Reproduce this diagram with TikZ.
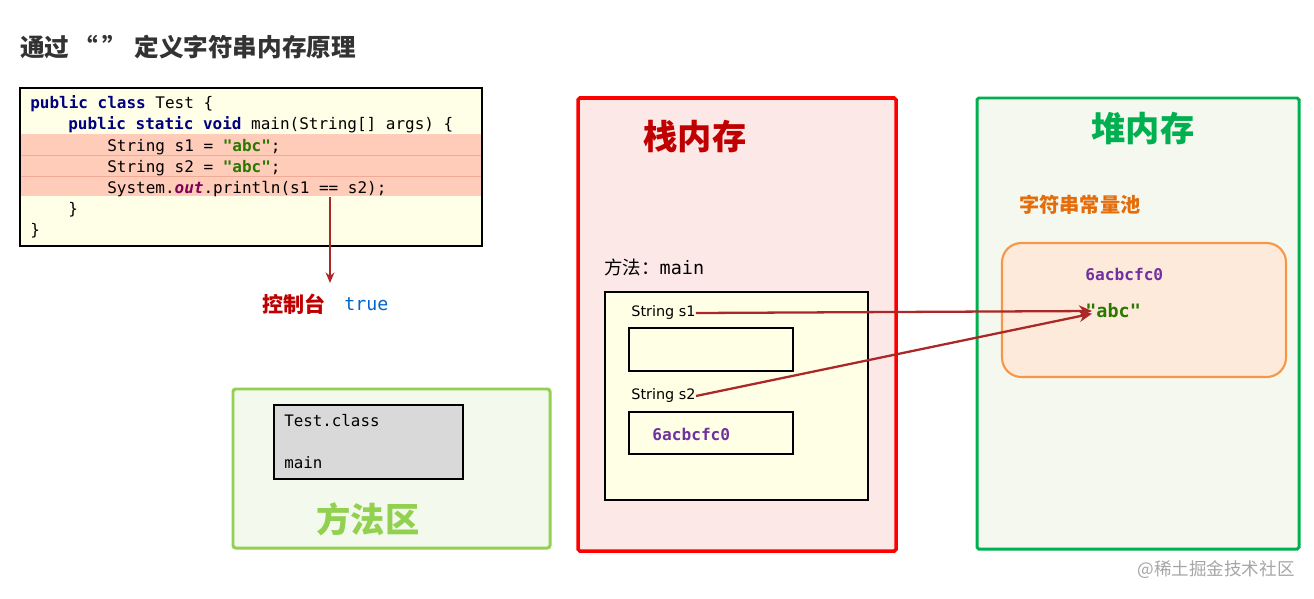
\documentclass[tikz,border=0pt]{standalone}
\usepackage{fontspec}
\usepackage{xcolor}
\setmainfont{Noto Sans CJK SC}
\setsansfont{DejaVu Sans}
\setmonofont{DejaVu Sans Mono}
\newfontfamily\cjk{Noto Sans CJK SC}
\usetikzlibrary{arrows.meta,positioning}
\definecolor{titleGray}{RGB}{51,51,51}
\definecolor{codeBg}{RGB}{255,255,232}
\definecolor{codeHl}{RGB}{255,204,186}
\definecolor{hlLine}{RGB}{240,170,150}
\definecolor{kwNavy}{RGB}{0,0,128}
\definecolor{strGreen}{RGB}{42,120,0}
\definecolor{outPurple}{RGB}{127,0,85}
\definecolor{arrRed}{RGB}{170,40,40}
\definecolor{conRed}{RGB}{192,0,0}
\definecolor{trueBlue}{RGB}{0,102,204}
\definecolor{areaGreen}{RGB}{146,208,80}
\definecolor{areaFill}{RGB}{244,249,238}
\definecolor{stackRed}{RGB}{255,0,0}
\definecolor{stackFill}{RGB}{253,232,232}
\definecolor{heapGreen}{RGB}{0,176,80}
\definecolor{heapFill}{RGB}{244,248,238}
\definecolor{poolText}{RGB}{228,108,10}
\definecolor{poolLine}{RGB}{247,150,70}
\definecolor{poolFill}{RGB}{253,234,218}
\definecolor{addrPurple}{RGB}{112,48,160}
\definecolor{frameFill}{RGB}{255,255,230}
\definecolor{classGray}{RGB}{217,217,217}
\newcommand{\kw}[1]{\textcolor{kwNavy}{\textbf{#1}}}
\newcommand{\strlit}[1]{\textcolor{strGreen}{\textbf{#1}}}
\tikzset{
  codeline/.style={anchor=base west,inner sep=0pt,font=\ttfamily\fontsize{9.1}{11}\selectfont},
  plain/.style={anchor=west,inner sep=0pt},
  bigtitle/.style={font=\cjk\bfseries\fontsize{19.5}{22}\selectfont},
  ref/.style={draw=arrRed,line width=1.3pt,-{Stealth[length=7.5pt,width=6.5pt]}},
  addr/.style={plain,text=addrPurple,font=\ttfamily\bfseries\fontsize{9.2}{11}\selectfont}
}

\begin{document}
\begin{tikzpicture}[x=0.02cm,y=-0.02cm]
  \useasboundingbox[fill=white] (0,0) rectangle (1314,598);
  % title
  \node[plain,text=titleGray,font=\cjk\bfseries\fontsize{14}{16}\selectfont] (title) at (20,47) {通过\hspace{2pt}“\hspace{3pt}”\hspace{4pt}定义字符串内存原理};

  % code
  \fill[codeBg] (20,88) rectangle (482,246);
  \fill[codeHl] (21,134) rectangle (481,196);
  \draw[hlLine,line width=0.4pt] (21,155) -- (481,155);
  \draw[hlLine,line width=0.4pt] (21,176) -- (481,176);
  \draw[black,line width=0.8pt] (20,88) rectangle (482,246);
  \node[codeline] (c1) at (30,109) {\kw{public class} Test \{};
  \node[codeline] (c2) at (68,130) {\kw{public static void} main(String[] args) \{};
  \node[codeline] (c3) at (107,151) {String s1 = \strlit{"abc"};};
  \node[codeline] (c4) at (107,172) {String s2 = \strlit{"abc"};};
  \node[codeline] (c5) at (107,193) {System.\textcolor{outPurple}{\textbf{\textit{out}}}.println(s1 == s2);};
  \node[codeline] (c6) at (68,214) {\}};
  \node[codeline] (c7) at (30,235) {\}};

  % console
  \coordinate (outpt) at (330,197);
  \coordinate (conpt) at (330,283);
  \draw[ref,line width=1pt,-{Stealth[length=6pt,width=5pt]}] (outpt) -- (conpt);
  \node[plain,text=conRed,font=\cjk\bfseries\fontsize{12}{14}\selectfont] (console) at (262,304) {控制台};
  \node[plain,text=trueBlue,font=\ttfamily\fontsize{10.4}{12}\selectfont,right=0.36cm of console] (result) {true};

  % method area
  \draw[areaGreen,fill=areaFill,line width=1.7pt,rounded corners=1.5pt] (233,389) rectangle (550,548);
  \draw[black,fill=classGray,line width=0.7pt] (274,405) rectangle (463,479);
  \node[plain,font=\ttfamily\fontsize{9}{11}\selectfont] (cls) at (284,421) {Test.class};
  \node[plain,font=\ttfamily\fontsize{9}{11}\selectfont] (mth) at (284,463) {main};
  \node[bigtitle,text=areaGreen] (areaT) at (368,519) {方法区};

  % stack
  \draw[stackRed,fill=stackFill,line width=2pt,rounded corners=1pt] (578,98) rectangle (896,551);
  \node[bigtitle,text=conRed] (stackT) at (695,136) {栈内存};
  \node[plain,font=\fontsize{10.5}{12}\selectfont] (frameT) at (604,267) {方法：\texttt{main}};
  \draw[black,fill=frameFill,line width=0.6pt] (605,292) rectangle (868,500);
  \node[plain,font=\sffamily\fontsize{8.2}{10}\selectfont] (s1) at (631,313) {String s1};
  \draw[black,line width=1pt] (629,328) rectangle (793,371);
  \node[plain,font=\sffamily\fontsize{8.2}{10}\selectfont] (s2) at (631,396) {String s2};
  \draw[black,line width=1pt] (629,412) rectangle (793,454);
  \node[addr] (slot2) at (652,434) {6acbcfc0};

  % heap
  \draw[heapGreen,fill=heapFill,line width=1.7pt,rounded corners=1pt] (977,98) rectangle (1299,549);
  \node[bigtitle,text=heapGreen] (heapT) at (1143,128) {堆内存};
  \node[plain,text=poolText,font=\cjk\bfseries\fontsize{11.5}{13}\selectfont] (poolT) at (1019,205) {字符串常量池};
  \draw[poolLine,fill=poolFill,line width=1.2pt,rounded corners=11pt] (1002,243) rectangle (1286,377);
  \node[addr] (addr) at (1085,274) {6acbcfc0};
  \node[plain,text=strGreen,font=\ttfamily\bfseries\fontsize{10.5}{12}\selectfont] (abc) at (1085,311) {"abc"};

  % references
  \draw[ref] (s1.east) -- ([xshift=4pt]abc.west);
  \draw[ref] (s2.east) -- ([xshift=4pt,yshift=-1.5pt]abc.west);

  \node[anchor=east,inner sep=0pt,text=black!35,font=\cjk\fontsize{10}{12}\selectfont] (mark) at (1295,570) {@稀土掘金技术社区};
\end{tikzpicture}
\end{document}
